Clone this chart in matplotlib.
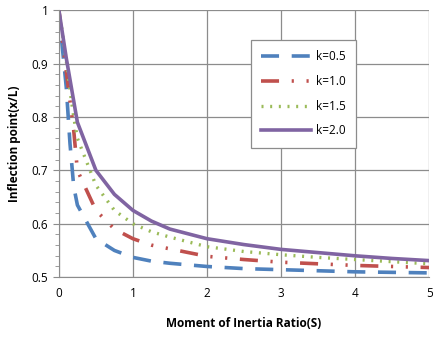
import numpy as np
import matplotlib
matplotlib.use("Agg")
import matplotlib.pyplot as plt
from matplotlib.ticker import MultipleLocator, FuncFormatter

# moment of inertia ratio S
s = [0, 0.05, 0.1, 0.15, 0.2, 0.25, 0.5, 0.75, 1, 1.25, 1.5, 2, 2.5, 3, 3.5, 4, 4.5, 5]
k05 = [1.0, 0.925, 0.855, 0.75, 0.67, 0.635, 0.572, 0.55, 0.537, 0.53, 0.526, 0.52, 0.516, 0.514, 0.512, 0.51, 0.509, 0.508]
k10 = [1.0, 0.94, 0.885, 0.83, 0.775, 0.70, 0.625, 0.59, 0.572, 0.56, 0.553, 0.539, 0.533, 0.528, 0.525, 0.522, 0.52, 0.518]
k15 = [1.0, 0.955, 0.905, 0.85, 0.80, 0.76, 0.672, 0.625, 0.60, 0.585, 0.575, 0.557, 0.548, 0.542, 0.537, 0.533, 0.529, 0.525]
k20 = [1.0, 0.955, 0.91, 0.87, 0.83, 0.79, 0.70, 0.655, 0.625, 0.605, 0.59, 0.572, 0.561, 0.552, 0.546, 0.54, 0.535, 0.531]
labels = ["k=0.5", "k=1.0", "k=1.5", "k=2.0"]

plt.rcParams['font.family'] = ['Open Sans', 'DejaVu Sans']

fig = plt.figure(figsize=(4.33, 3.38), dpi=100)
ax = fig.add_axes([0.136, 0.18, 0.855, 0.79])

ax.plot(s, k05, color='#4F81BD', lw=2.6, dashes=(5, 3.5), label=labels[0])
ax.plot(s, k10, color='#C0504D', lw=2.6, dashes=(5, 3.5, 0.6, 3.5, 0.6, 3.5), label=labels[1])
ax.plot(s, k15, color='#9BBB59', lw=2.4, dashes=(0.6, 2.0), label=labels[2])
ax.plot(s, k20, color='#8064A2', lw=2.6, label=labels[3])

ax.set_xlim(0, 5)
ax.set_ylim(0.5, 1.0)
ax.xaxis.set_major_locator(MultipleLocator(1))
ax.yaxis.set_major_locator(MultipleLocator(0.1))
ax.yaxis.set_minor_locator(MultipleLocator(0.02))
ax.yaxis.set_major_formatter(FuncFormatter(lambda v, p: "%g" % round(v, 2)))
ax.grid(True, which='major', color='#8c8c8c', lw=0.9)
for side in ['top', 'right']:
    ax.spines[side].set_visible(False)
for side in ['left', 'bottom']:
    ax.spines[side].set_color('#8c8c8c')
ax.tick_params(axis='both', which='both', colors='#8c8c8c', labelcolor='black', labelsize=8.5)
ax.tick_params(axis='y', which='major', length=4)
ax.tick_params(axis='y', which='minor', length=3)
ax.tick_params(axis='x', which='major', length=0, pad=7)

ax.set_xlabel("Moment of Inertia Ratio(S)", fontsize=8.5, fontweight='bold', labelpad=12)
ax.set_ylabel("Inflection point(x/L)", fontsize=8.5, fontweight='bold', labelpad=8)

leg = ax.legend(loc='upper left', bbox_to_anchor=(0.52, 0.888), borderaxespad=0, fontsize=8.5,
                frameon=True, fancybox=False, framealpha=1, edgecolor='#8c8c8c',
                handlelength=4.2, labelspacing=1.0, borderpad=0.85, handletextpad=0.4)
leg.get_frame().set_linewidth(0.9)

fig.savefig("out.png", dpi=100)
